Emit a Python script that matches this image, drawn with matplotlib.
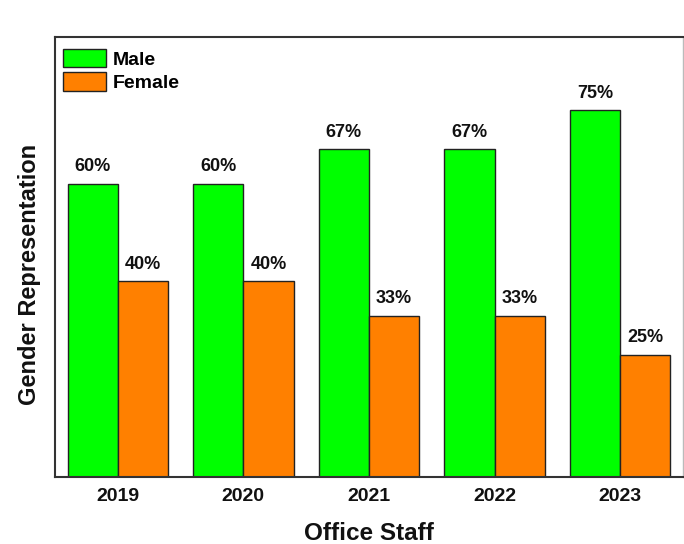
import matplotlib
matplotlib.use("Agg")
import matplotlib.pyplot as plt
import numpy as np
from matplotlib.patches import Patch

plt.rcParams['font.family'] = ['Liberation Sans', 'DejaVu Sans']

years = ['2019', '2020', '2021', '2022', '2023']
male = [60, 60, 67, 67, 75]
female = [40, 40, 33, 33, 25]

male_color = '#00FF00'
female_color = '#FF8000'
edge = '#222222'

fig = plt.figure(figsize=(6.84, 5.44), dpi=100)
ax = fig.add_axes([0.0804, 0.1232, 0.918, 0.8088])

x = np.arange(len(years))
w = 0.4
bm = ax.bar(x - w / 2, male, w, color=male_color, edgecolor=edge, linewidth=1.0)
bf = ax.bar(x + w / 2, female, w, color=female_color, edgecolor=edge, linewidth=1.0)

for rect, v in zip(bm, male):
    ax.text(rect.get_x() + rect.get_width() / 2, v + 1.8, f'{v}%',
            ha='center', va='bottom', fontsize=13, fontweight='bold', color='#111111')
for rect, v in zip(bf, female):
    ax.text(rect.get_x() + rect.get_width() / 2, v + 1.8, f'{v}%',
            ha='center', va='bottom', fontsize=13, fontweight='bold', color='#111111')

ax.set_xlim(-0.5, 4.5)
ax.set_ylim(0, 90)
ax.set_xticks(x)
ax.set_xticklabels(years, fontsize=14, fontweight='bold', color='#111111')
ax.set_yticks([])
ax.tick_params(axis='x', length=0, pad=8)

for side in ['left', 'bottom', 'top']:
    ax.spines[side].set_linewidth(1.5)
    ax.spines[side].set_color('#333333')
ax.spines['right'].set_linewidth(1.0)
ax.spines['right'].set_color('#bbbbbb')

ax.set_xlabel('Office Staff', fontsize=17.5, fontweight='bold', color='#111111', labelpad=12)
ax.set_ylabel('Gender Representation', fontsize=17, fontweight='bold', color='#111111',
              va='center')
ax.yaxis.set_label_coords(-0.04, 0.46)

handles = [Patch(facecolor=male_color, edgecolor=edge, label='Male'),
           Patch(facecolor=female_color, edgecolor=edge, label='Female')]
ax.legend(handles=handles, loc='upper left', frameon=False,
          prop={'weight': 'bold', 'size': 14}, handlelength=2.2, handleheight=1.1,
          handletextpad=0.35, labelspacing=0.2, borderaxespad=0.2,
          bbox_to_anchor=(-0.006, 1.0))

fig.savefig('out.png', dpi=100)
